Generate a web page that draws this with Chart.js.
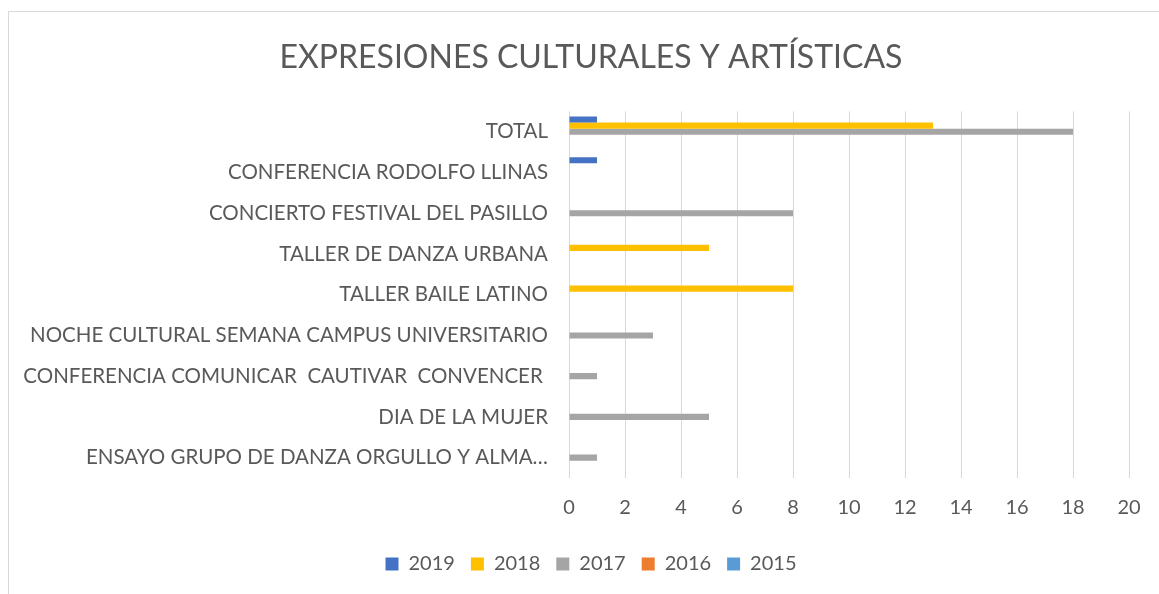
<!DOCTYPE html>
<html>
<head>
<meta charset="utf-8">
<script src="https://cdn.jsdelivr.net/npm/chart.js@4/dist/chart.umd.min.js"></script>
<style>
  html, body { margin: 0; padding: 0; background: #fff; overflow: hidden; }
  #frame {
    position: absolute; left: 8px; top: 11px;
    width: 1200px; height: 600px;
    border-top: 1px solid #d9d9d9; border-left: 1px solid #d9d9d9;
  }
  #wrap { position: absolute; left: 23px; top: 12px; width: 1136px; height: 582px; }
</style>
</head>
<body>
<div id="frame"></div>
<div id="wrap"><canvas id="chart"></canvas></div>
<script>
var categorias = [
  "TOTAL",
  "CONFERENCIA RODOLFO LLINAS",
  "CONCIERTO FESTIVAL DEL PASILLO",
  "TALLER DE DANZA URBANA",
  "TALLER BAILE LATINO",
  "NOCHE CULTURAL SEMANA CAMPUS UNIVERSITARIO",
  "CONFERENCIA COMUNICAR  CAUTIVAR  CONVENCER ",
  "DIA DE LA MUJER",
  "ENSAYO GRUPO DE DANZA ORGULLO Y ALMA\u2026"
];
var anios = ["2019", "2018", "2017", "2016", "2015"];
var v2019 = [1, 1, 0, 0, 0, 0, 0, 0, 0];
var v2018 = [13, 0, 0, 5, 8, 0, 0, 0, 0];
var v2017 = [18, 0, 8, 0, 0, 3, 1, 5, 1];
var v2016 = [0, 0, 0, 0, 0, 0, 0, 0, 0];
var v2015 = [0, 0, 0, 0, 0, 0, 0, 0, 0];
var colores = ["#4472c4", "#ffc000", "#a5a5a5", "#ed7d31", "#5b9bd5"];

var series = [v2019, v2018, v2017, v2016, v2015];
var fuente = "Lato, 'Open Sans', sans-serif";

var chart = new Chart("chart", {
  type: "bar",
  data: {
    labels: categorias,
    datasets: series.map(function (d, i) {
      return {
        label: anios[i],
        data: d,
        backgroundColor: colores[i],
        borderWidth: 0,
        categoryPercentage: 0.75,
        barPercentage: 1
      };
    })
  },
  options: {
    indexAxis: "y",
    responsive: true,
    maintainAspectRatio: false,
    animation: false,
    layout: { padding: { left: 0, right: 0, top: 26, bottom: 10 } },
    plugins: {
      title: {
        display: true,
        text: "EXPRESIONES CULTURALES Y ARTÍSTICAS",
        color: "#595959",
        font: { family: fuente, size: 32, weight: "normal" },
        padding: { top: 0, bottom: 35 }
      },
      legend: {
        position: "bottom",
        labels: {
          color: "#595959",
          font: { family: fuente, size: 20 },
          boxWidth: 13,
          boxHeight: 13,
          padding: 16
        }
      },
      tooltip: { enabled: false }
    },
    scales: {
      x: {
        min: 0,
        max: 20,
        ticks: {
          stepSize: 2,
          color: "#595959",
          font: { family: fuente, size: 20 },
          padding: 18
        },
        grid: { color: "#d9d9d9", lineWidth: 1, drawTicks: false },
        border: { display: false }
      },
      y: {
        afterFit: function (scale) { scale.width = 546; },
        ticks: {
          color: "#595959",
          font: { family: fuente, size: 20.5 },
          padding: 21,
          autoSkip: false
        },
        grid: { display: false, drawTicks: false },
        border: { display: false }
      },
      // espacio vacío a la derecha, para centrar título y leyenda como en Excel
      derecha: {
        type: "linear",
        position: "right",
        afterFit: function (scale) { scale.width = 30; },
        ticks: { display: false },
        grid: { display: false, drawTicks: false },
        border: { display: false }
      }
    }
  }
});
</script>
</body>
</html>
